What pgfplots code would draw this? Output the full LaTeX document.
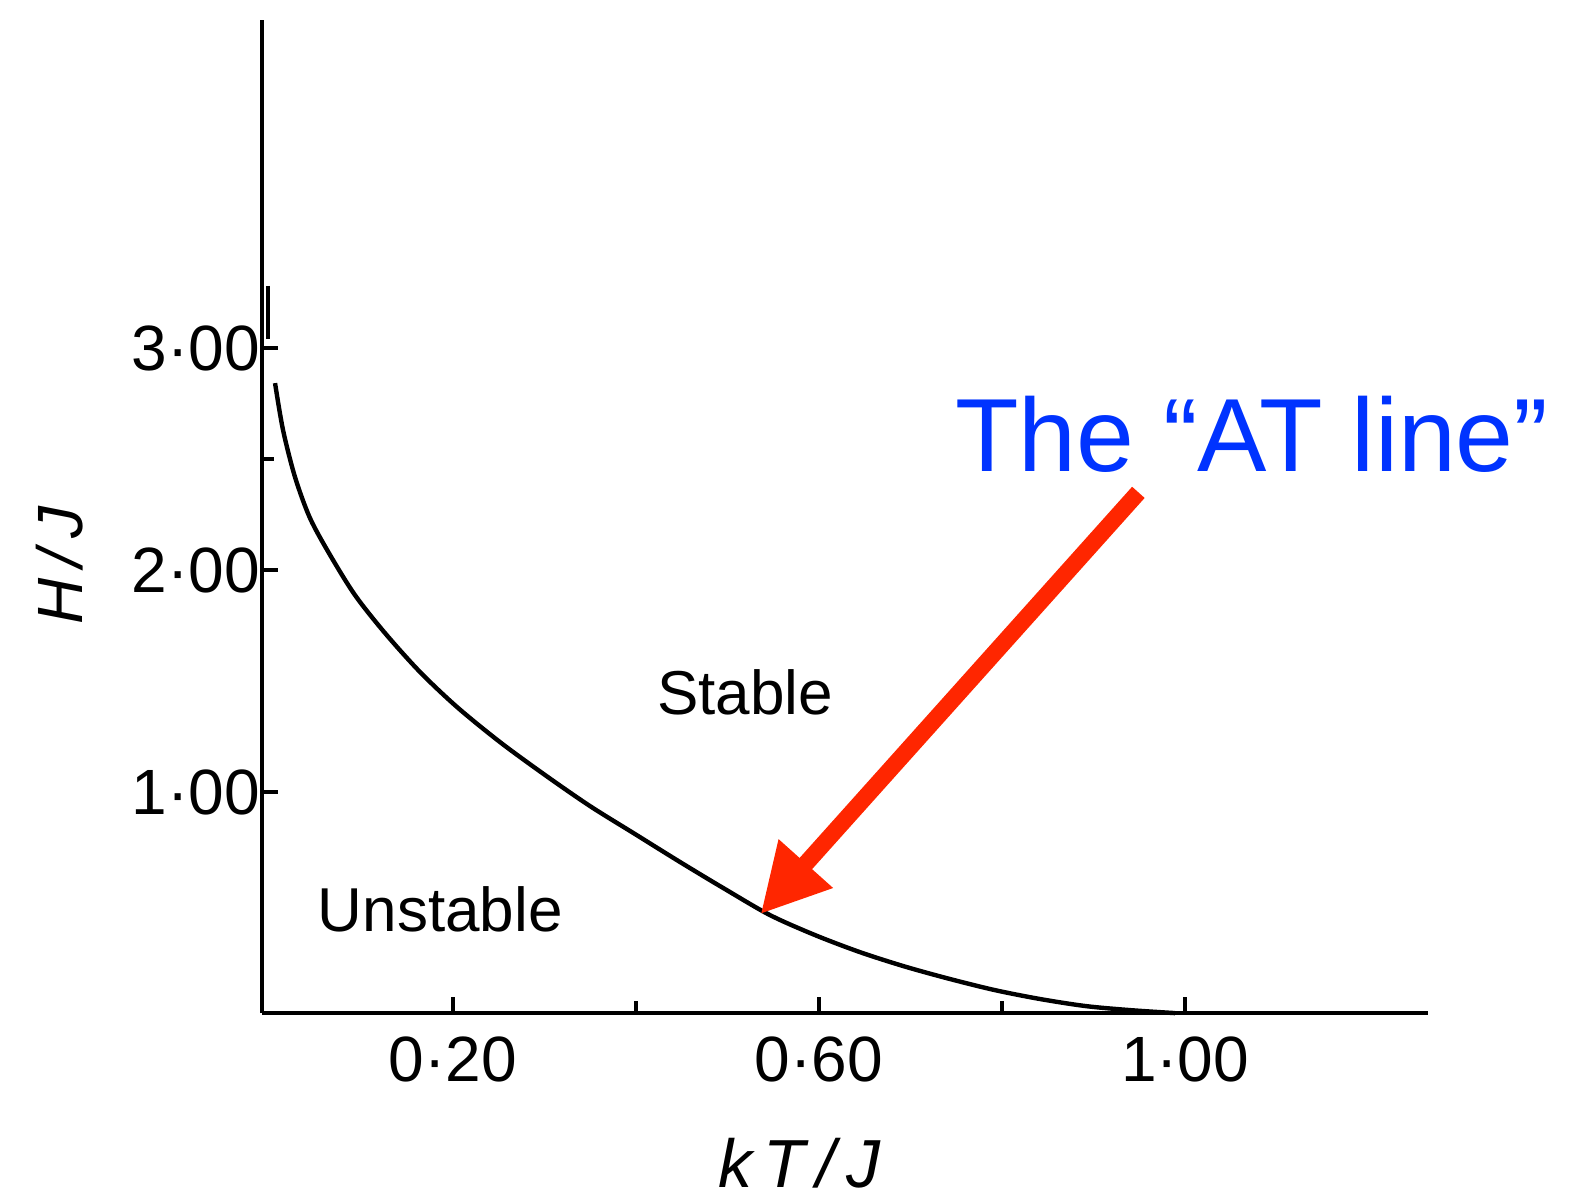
\documentclass[border=0pt]{standalone}
\usepackage{fontspec}
\setmainfont{Liberation Sans}
\usepackage{pgfplots}
\pgfplotsset{compat=1.18}
\usetikzlibrary{arrows.meta}
\definecolor{atblue}{RGB}{0,51,255}
\definecolor{arrowred}{RGB}{255,38,0}

\begin{document}
\begin{tikzpicture}
\begin{axis}[
    scale only axis,
    width=291.5pt, height=248.25pt,
    xmin=-0.0087, xmax=1.2656,
    ymin=0.0045, ymax=4.477,
    axis x line*=bottom, axis y line*=left,
    axis line style={line width=1pt},
    tick align=inside,
    major tick length=4pt, minor tick length=3pt,
    tick style={line width=0.8pt, black},
    xtick={0.2,0.6,1.0}, xticklabels={0·20,0·60,1·00},
    minor xtick={0.4,0.8},
    ytick={1,2,3}, yticklabels={1·00,2·00,3·00},
    minor ytick={2.5},
    ticklabel style={font=\fontsize{16}{16}\selectfont},
    xticklabel style={yshift=-2.5pt},
    yticklabel style={xshift=3pt},
    clip=false,
]
% short dash close to the axis at the top of the line
\addplot[black, line width=1pt] coordinates {(-0.002,3.28) (-0.002,3.04)};
\addplot[black, line width=1.1pt, smooth] coordinates {
 (0.0055,2.842) (0.0142,2.631) (0.0273,2.419) (0.0437,2.234) (0.0656,2.068)
 (0.0929,1.887) (0.1257,1.716) (0.1639,1.541) (0.2044,1.383) (0.2514,1.225)
 (0.3005,1.077) (0.3497,0.937) (0.3989,0.811) (0.4481,0.685) (0.4973,0.563)
 (0.5464,0.446) (0.5956,0.356) (0.6448,0.279) (0.6940,0.214) (0.7432,0.158)
 (0.7923,0.108) (0.8415,0.068) (0.8918,0.036) (0.9399,0.018) (0.9891,0.0045)};

\node[font=\fontsize{15.5}{15.5}\selectfont] at (axis cs:0.519,1.45) {Stable};
\node[font=\fontsize{15.5}{15.5}\selectfont] at (axis cs:0.186,0.47) {Unstable};
\node[font=\fontsize{17}{17}\selectfont\itshape] at (axis cs:0.579,-0.67) {k\,T\,/\,J};
\node[font=\fontsize{16}{16}\selectfont\itshape, rotate=90] at (axis cs:-0.23,2.02) {H\,/\,J};

\node[font=\fontsize{26}{26}\selectfont, text=atblue] at (axis cs:1.073,2.61) {The “AT line”};
\draw[arrowred, line width=4.2pt, -{Triangle[length=17pt, width=17pt]}]
  (axis cs:0.949,2.35) -- (axis cs:0.536,0.45);

\path (axis cs:-0.2951,-0.8378) rectangle (axis cs:1.4240,4.5676);
\end{axis}
\end{tikzpicture}
\end{document}
